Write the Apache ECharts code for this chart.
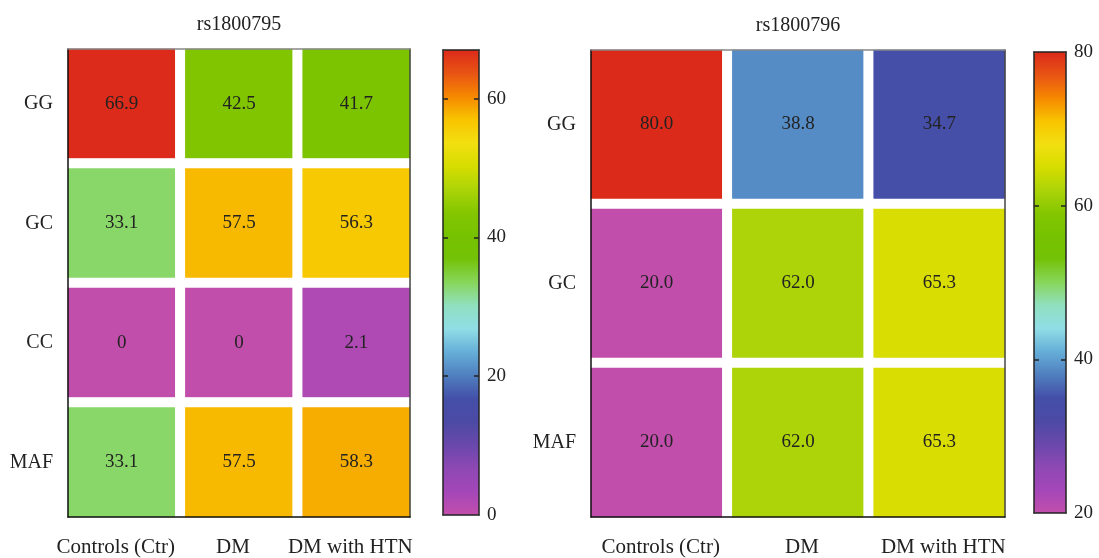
<!DOCTYPE html>
<html><head><meta charset="utf-8">
<script src="https://cdn.jsdelivr.net/npm/echarts@6/dist/echarts.min.js"></script>
<style>html,body{margin:0;padding:0;background:#fff}#c{width:1099px;height:558px}</style>
</head><body><div id="c"></div>
<script>
// ---- data ----
const groups = ['Controls (Ctr)', 'DM', 'DM with HTN'];
const title795 = 'rs1800795';
const genotypes795 = ['GG', 'GC', 'CC', 'MAF'];
const values795 = [
  [66.9, 42.5, 41.7],
  [33.1, 57.5, 56.3],
  [0, 0, 2.1],
  [33.1, 57.5, 58.3]
];
const title796 = 'rs1800796';
const genotypes796 = ['GG', 'GC', 'MAF'];
const values796 = [
  [80.0, 38.8, 34.7],
  [20.0, 62.0, 65.3],
  [20.0, 62.0, 65.3]
];
const scale795 = [0, 67];
const ticks795 = [0, 20, 40, 60];
const scale796 = [20, 80];
const ticks796 = [20, 40, 60, 80];
const colorStops = ['#c24eac','#a447b8','#8e48b4','#6a48ac','#4c4aa4','#444fa8','#4f7fbf','#66aed8',
  '#90dde6','#90e0c0','#88d65c','#74c208','#76c200','#84c600','#acd408','#d6dd00','#f2df10','#f8c400',
  '#f68800','#e85414','#dc2a1a'];

const FONT = 'Liberation Serif';
function toCells(vals){ const out=[]; vals.forEach((row,r)=>row.forEach((v,c)=>out.push([c,r,v]))); return out; }

const lineAxis = (gi, pos, color, extra) => Object.assign({
  gridIndex: gi, type: 'value', position: pos, min: 0, max: 1, z: 10,
  axisLine: {show: true, onZero: false, lineStyle: {color: color, width: 1.5}},
  axisTick: {show: false}, axisLabel: {show: false}, splitLine: {show: false}
}, extra || {});

const catX = (gi, pad) => ({gridIndex: gi, type: 'category', data: groups, position: 'bottom',
  axisLine: {show: false}, axisTick: {show: false},
  axisLabel: {interval: 0, margin: 15, padding: pad, fontFamily: FONT, fontSize: 21, color: '#222'}, splitLine: {show: false}});
const catY = (gi, cats) => ({gridIndex: gi, type: 'category', data: cats, inverse: true,
  axisLine: {show: false}, axisTick: {show: false},
  axisLabel: {interval: 0, margin: 10, fontFamily: FONT, fontSize: 20, color: '#222'}, splitLine: {show: false}});
const barAxis = (gi, pos, rng, ticks, labels) => ({gridIndex: gi, type: 'value', position: pos,
  min: rng[0], max: rng[1], z: 10,
  axisLine: {show: true, onZero: false, lineStyle: {color: '#222', width: 1.5}},
  axisTick: {show: true, inside: true, length: 5, customValues: ticks.filter(t => t > rng[0] && t < rng[1]),
    lineStyle: {color: '#222', width: 1.5}},
  axisLabel: {show: labels, margin: 8, fontFamily: FONT, fontSize: 19, color: '#222', customValues: ticks},
  splitLine: {show: false}});
const titleName = (txt) => ({name: txt, nameLocation: 'middle', nameGap: 14,
  nameTextStyle: {fontFamily: FONT, fontSize: 20, color: '#222'}});

const heat = (xi, yi, vals, fmt) => ({
  type: 'heatmap', xAxisIndex: xi, yAxisIndex: yi, data: toCells(vals),
  itemStyle: {borderColor: '#fff', borderWidth: 10},
  label: {show: true, fontFamily: FONT, fontSize: 19, color: '#222', formatter: p => fmt(p.value[2])},
  emphasis: {disabled: true}
});

const option = {
  animation: false,
  backgroundColor: '#fff',
  grid: [
    {left: 63, top: 44, width: 352, height: 478},
    {left: 68, top: 49, width: 342, height: 468},
    {left: 443, top: 50, width: 36, height: 465},
    {left: 586, top: 45, width: 424, height: 477},
    {left: 591, top: 50, width: 414, height: 467},
    {left: 1034, top: 52, width: 32, height: 461}
  ],
  xAxis: [
    catX(0, [0, 12, 0, 0]),
    lineAxis(1, 'bottom', '#111'),
    lineAxis(1, 'top', '#888', titleName(title795)),
    lineAxis(2, 'bottom', '#222'),
    lineAxis(2, 'top', '#222'),
    catX(3, [0, 0, 0, 8]),
    lineAxis(4, 'bottom', '#111'),
    lineAxis(4, 'top', '#888', titleName(title796)),
    lineAxis(5, 'bottom', '#222'),
    lineAxis(5, 'top', '#222')
  ],
  yAxis: [
    catY(0, genotypes795),
    lineAxis(1, 'left', '#111'),
    lineAxis(1, 'right', '#444'),
    barAxis(2, 'left', scale795, ticks795, false),
    barAxis(2, 'right', scale795, ticks795, true),
    catY(3, genotypes796),
    lineAxis(4, 'left', '#111'),
    lineAxis(4, 'right', '#444'),
    barAxis(5, 'left', scale796, ticks796, false),
    barAxis(5, 'right', scale796, ticks796, true)
  ],
  visualMap: [
    {type: 'continuous', seriesIndex: 0, dimension: 2, min: scale795[0], max: scale795[1],
     inRange: {color: colorStops}, calculable: false, hoverLink: false,
     left: 443, top: 50, itemWidth: 36, itemHeight: 465, padding: 0},
    {type: 'continuous', seriesIndex: 1, dimension: 2, min: scale796[0], max: scale796[1],
     inRange: {color: colorStops}, calculable: false, hoverLink: false,
     left: 1034, top: 52, itemWidth: 32, itemHeight: 461, padding: 0}
  ],
  series: [
    heat(0, 0, values795, v => String(v)),
    heat(5, 5, values796, v => v.toFixed(1))
  ]
};
const chart = echarts.init(document.getElementById('c'), null, {renderer: 'canvas'});
chart.setOption(option);
</script>
</body></html>
